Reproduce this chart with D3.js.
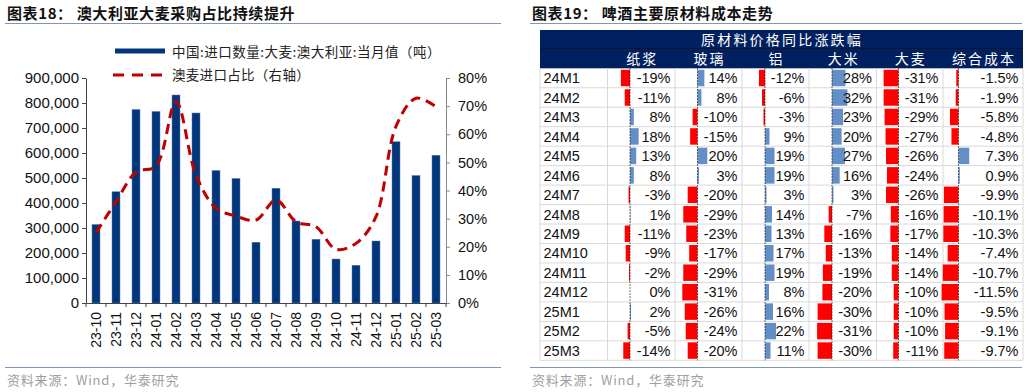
<!DOCTYPE html>
<html><head><meta charset="utf-8">
<script src="https://cdn.jsdelivr.net/npm/d3@7"></script>
<style>body{margin:0;background:#fff} svg{display:block}</style>
</head><body>
<svg id="c" width="1030" height="392"></svg>
<script>
// ---------- Left chart data ----------
const months = ["23-10","23-11","23-12","24-01","24-02","24-03","24-04","24-05","24-06","24-07","24-08","24-09","24-10","24-11","24-12","25-01","25-02","25-03"];
const importVolume = [314000,445000,774000,766000,832000,760000,530000,498000,243000,459000,328000,255000,176000,151000,248000,645000,510000,591000];
const ausShare = [0.25,0.36,0.465,0.487,0.716,0.455,0.337,0.309,0.295,0.366,0.289,0.271,0.191,0.212,0.307,0.628,0.728,0.698];
const leftTicks = [0,100000,200000,300000,400000,500000,600000,700000,800000,900000];
const rightTicks = [0,0.1,0.2,0.3,0.4,0.5,0.6,0.7,0.8];
const leftSeriesName = "中国:进口数量:大麦:澳大利亚:当月值（吨）";
const rightSeriesName = "澳麦进口占比（右轴）";

// ---------- Right table data ----------
const tableRows = ["24M1","24M2","24M3","24M4","24M5","24M6","24M7","24M8","24M9","24M10","24M11","24M12","25M1","25M2","25M3"];
const tableCols = ["纸浆","玻璃","铝","大米","大麦","综合成本"];
const pulp     = [-19,-11,8,18,13,8,-3,1,-11,-9,-2,0,2,-5,-14];
const glass    = [14,8,-10,-15,20,3,-20,-29,-23,-17,-29,-31,-26,-24,-20];
const aluminum = [-12,-6,-3,9,19,19,3,14,13,17,19,8,16,22,11];
const rice     = [28,32,23,20,27,16,3,-7,-16,-13,-19,-20,-30,-31,-30];
const barley   = [-31,-31,-29,-27,-26,-24,-26,-16,-17,-14,-14,-10,-10,-10,-11];
const totalCost= [-1.5,-1.9,-5.8,-4.8,7.3,0.9,-9.9,-10.1,-10.3,-7.4,-10.7,-11.5,-9.5,-9.1,-9.7];

const svg = d3.select("#c");
const NUM = "'Liberation Sans', Arial, sans-serif";
const CJK = "'Noto Sans CJK SC', 'Noto Sans', sans-serif";
const loc = d3.formatLocale({decimal: ".", thousands: ",", grouping: [3], currency: ["", ""], minus: "-", percent: "%"});

// ---------- Titles / footers ----------
function panelFrame(x0, x1, title) {
  svg.append("text").attr("x", x0 + 2).attr("y", 19).attr("font-family", CJK)
    .attr("font-size", 15).attr("font-weight", 700).attr("letter-spacing", 0.6).attr("fill", "#111").text(title);
  svg.append("line").attr("x1", x0).attr("x2", x1).attr("y1", 23.5).attr("y2", 23.5)
    .attr("stroke", "#7f96b4").attr("stroke-width", 1.2);
  svg.append("line").attr("x1", x0).attr("x2", x1).attr("y1", 367.5).attr("y2", 367.5)
    .attr("stroke", "#7f96b4").attr("stroke-width", 1.2);
  svg.append("text").attr("x", x0 + 2).attr("y", 385).attr("font-family", CJK)
    .attr("font-size", 13).attr("letter-spacing", 0.8).attr("fill", "#a0a0a0").text("资料来源：Wind，华泰研究");
}
panelFrame(5, 501, "图表18：  澳大利亚大麦采购占比持续提升");
panelFrame(530, 1022, "图表19：  啤酒主要原材料成本走势");

// ---------- Left chart ----------
const x = d3.scaleBand().domain(months).range([86, 446]).paddingInner(0.6).paddingOuter(0.3);
const yL = d3.scaleLinear().domain([0, 900000]).range([303, 78]);
const yR = d3.scaleLinear().domain([0, 0.8]).range([303, 78]);

const g = svg.append("g");
g.selectAll("rect.bar").data(months).join("rect").attr("class", "bar")
  .attr("x", d => x(d)).attr("width", x.bandwidth())
  .attr("y", (d, i) => yL(importVolume[i])).attr("height", (d, i) => yL(0) - yL(importVolume[i]))
  .attr("fill", "#02367a").attr("stroke", "#5b7fb0").attr("stroke-width", 0.5);

const line = d3.line().x((d, i) => x(months[i]) + x.bandwidth() / 2).y(d => yR(d))
  .curve(d3.curveCatmullRom.alpha(0.5));
g.append("path").datum(ausShare).attr("d", line).attr("fill", "none")
  .attr("stroke", "#c00000").attr("stroke-width", 3).attr("stroke-dasharray", "10,6");

// left axis
const axL = g.append("g").attr("transform", "translate(86,0)")
  .call(d3.axisLeft(yL).tickValues(leftTicks).tickFormat(loc.format(",")).tickSize(4).tickSizeOuter(0).tickPadding(3));
axL.selectAll("text").attr("font-family", NUM).attr("font-size", 15).attr("fill", "#111");
axL.selectAll("line,path").attr("stroke", "#444");
// right axis
const axR = g.append("g").attr("transform", "translate(446,0)")
  .call(d3.axisRight(yR).tickValues(rightTicks).tickFormat(loc.format(".0%")).tickSize(4).tickSizeOuter(0).tickPadding(8));
axR.selectAll("text").attr("font-family", NUM).attr("font-size", 14.5).attr("fill", "#111");
axR.selectAll("line,path").attr("stroke", "#888");
// bottom axis
const axB = g.append("g").attr("transform", "translate(0,303)")
  .call(d3.axisBottom(x).tickSize(0).tickSizeOuter(0));
axB.select("path").attr("stroke", "#444");
axB.selectAll("text").attr("font-family", NUM).attr("font-size", 14).attr("fill", "#111")
  .attr("transform", "rotate(-90)").attr("x", -9).attr("y", 0).attr("dy", "0.36em").attr("text-anchor", "end");
const half = (x.step() - x.bandwidth()) / 2;
g.selectAll("line.xt").data(months.concat(["end"])).join("line").attr("class", "xt")
  .attr("x1", (d, i) => i < months.length ? x(d) - half : x(months[months.length - 1]) + x.bandwidth() + half)
  .attr("x2", (d, i) => i < months.length ? x(d) - half : x(months[months.length - 1]) + x.bandwidth() + half)
  .attr("y1", 303).attr("y2", 307).attr("stroke", "#444");

// legend
g.append("rect").attr("x", 115).attr("y", 48.5).attr("width", 50).attr("height", 5).attr("fill", "#02367a");
g.append("text").attr("x", 172).attr("y", 56.5).attr("font-family", CJK).attr("font-size", 13.5).attr("letter-spacing", 0.5).attr("fill", "#222").text(leftSeriesName);
g.append("line").attr("x1", 113).attr("x2", 165).attr("y1", 75).attr("y2", 75)
  .attr("stroke", "#c00000").attr("stroke-width", 3).attr("stroke-dasharray", "11,8");
g.append("text").attr("x", 172).attr("y", 79.5).attr("font-family", CJK).attr("font-size", 13.5).attr("letter-spacing", 0.3).attr("fill", "#222").text(rightSeriesName);

// ---------- Right table ----------
const colEdges = [540, 607.5, 675, 742, 809, 876.5, 943, 1023];
const axisX = [630, 697.5, 765, 832, 898.5, 958.5];
const pxPerPct = [0.48, 0.49, 0.5, 0.48, 0.48, 1.47];
const seriesList = [pulp, glass, aluminum, rice, barley, totalCost];
const fmtInt = v => loc.format(".0f")(v) + "%";
const fmt1 = v => loc.format(".1f")(v) + "%";
const formats = [fmtInt, fmtInt, fmtInt, fmtInt, fmtInt, fmt1];

const rowY = d3.scaleBand().domain(tableRows).range([68.3, 360.3]);
const t = svg.append("g");
// header
t.append("rect").attr("x", 540).attr("y", 30).attr("width", 483).attr("height", 38.3).attr("fill", "#002060");
t.append("line").attr("x1", 540).attr("x2", 1023).attr("y1", 48.5).attr("y2", 48.5).attr("stroke", "#0b1430").attr("stroke-width", 1);
t.append("text").attr("x", 782).attr("y", 44.5).attr("text-anchor", "middle").attr("font-family", CJK)
  .attr("font-size", 14).attr("letter-spacing", 2.2).attr("fill", "#fff").text("原材料价格同比涨跌幅");
t.selectAll("text.ch").data(tableCols).join("text").attr("class", "ch")
  .attr("x", (d, i) => (colEdges[i + 1] + colEdges[i + 2]) / 2 + 1).attr("y", 63.5).attr("text-anchor", "middle")
  .attr("font-family", CJK).attr("font-size", 14).attr("letter-spacing", 2).attr("fill", "#fff").text(d => d);

// grid
t.selectAll("line.hg").data(tableRows).join("line").attr("class", "hg")
  .attr("x1", 540).attr("x2", 1023).attr("y1", d => rowY(d) + rowY.step()).attr("y2", d => rowY(d) + rowY.step())
  .attr("stroke", "#d9d9d9");
t.selectAll("line.vg").data(colEdges).join("line").attr("class", "vg")
  .attr("x1", d => d).attr("x2", d => d).attr("y1", 68.3).attr("y2", 360.3).attr("stroke", "#d9d9d9");

// row labels
t.selectAll("text.rl").data(tableRows).join("text").attr("class", "rl")
  .attr("x", 543.5).attr("y", d => rowY(d) + rowY.step() / 2 + 5.2)
  .attr("font-family", NUM).attr("font-size", 14.5).attr("fill", "#111").text(d => d);

// data bars + values
seriesList.forEach((vals, ci) => {
  const s = d3.scaleLinear().domain([0, 10]).range([axisX[ci], axisX[ci] + 10 * pxPerPct[ci]]);
  const cg = t.append("g");
  cg.selectAll("rect").data(vals).join("rect")
    .attr("x", v => Math.min(s(0), s(v))).attr("width", v => Math.abs(s(v) - s(0)))
    .attr("y", (v, i) => rowY(tableRows[i]) + 1.5).attr("height", rowY.step() - 3)
    .attr("fill", v => v < 0 ? "#ff0000" : "#638ec6");
  cg.append("line").attr("x1", s(0)).attr("x2", s(0)).attr("y1", 68.3).attr("y2", 360.3)
    .attr("stroke", "#111").attr("stroke-width", 0.8).attr("stroke-dasharray", "1.5,1.5");
  cg.selectAll("text").data(vals).join("text")
    .attr("x", colEdges[ci + 2] - 4.5).attr("y", (v, i) => rowY(tableRows[i]) + rowY.step() / 2 + 5.2)
    .attr("text-anchor", "end").attr("font-family", NUM).attr("font-size", 14.5).attr("fill", "#111")
    .text(v => formats[ci](v));
});
</script>
</body></html>
